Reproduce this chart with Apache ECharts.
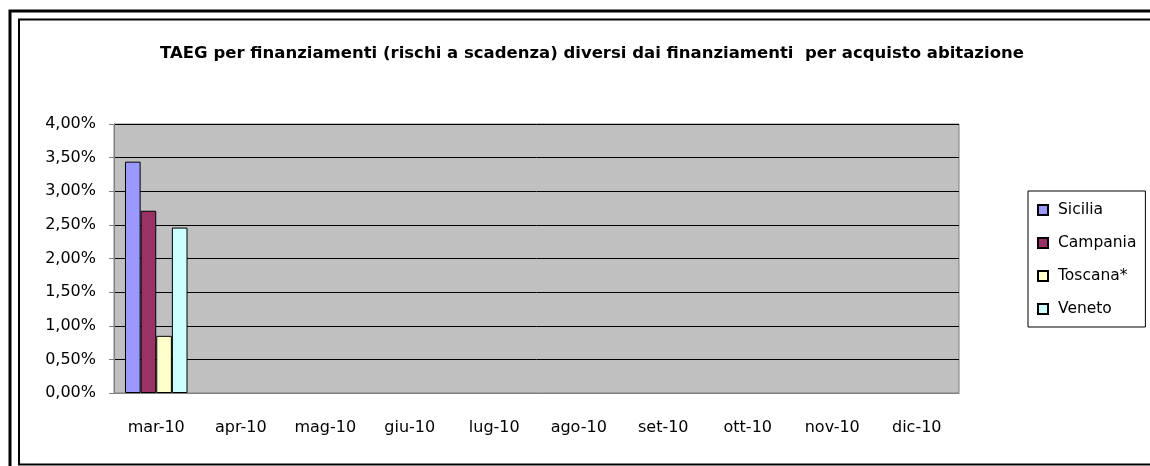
<!DOCTYPE html>
<html>
<head>
<meta charset="utf-8">
<script src="https://cdn.jsdelivr.net/npm/echarts@6/dist/echarts.min.js"></script>
<style>
  html, body { margin: 0; padding: 0; background: #fff; }
  #chart { width: 1150px; height: 466px; }
</style>
</head>
<body>
<div id="chart"></div>
<script>
var categories = ["mar-10", "apr-10", "mag-10", "giu-10", "lug-10", "ago-10", "set-10", "ott-10", "nov-10", "dic-10"];
var sicilia = [3.44, null, null, null, null, null, null, null, null, null];
var campania = [2.71, null, null, null, null, null, null, null, null, null];
var toscana = [0.85, null, null, null, null, null, null, null, null, null];
var veneto = [2.46, null, null, null, null, null, null, null, null, null];

var font = "'Comic Sans MS', 'DejaVu Sans', sans-serif";

var chart = echarts.init(document.getElementById("chart"));

function bar(name, data, color) {
  return {
    name: name,
    type: "bar",
    data: data,
    barGap: "0%",
    barCategoryGap: "26%",
    itemStyle: { color: color, borderColor: "#000", borderWidth: 1 }
  };
}

chart.setOption({
  backgroundColor: "#fff",
  animation: false,
  title: {
    text: "TAEG per finanziamenti (rischi a scadenza) diversi dai finanziamenti  per acquisto abitazione",
    left: 587,
    top: 40,
    textAlign: "center",
    textStyle: { fontFamily: font, fontSize: 16.5, fontWeight: "bold", color: "#000" }
  },
  graphic: [
    { type: "rect", shape: { x: 10, y: 11, width: 1300, height: 600 }, style: { fill: null, stroke: "#000", lineWidth: 3 } },
    { type: "rect", shape: { x: 19, y: 19.5, width: 1300, height: 445 }, style: { fill: null, stroke: "#000", lineWidth: 2 } }
  ],
  legend: {
    orient: "vertical",
    left: 1028,
    top: 191,
    width: 118,
    padding: [11, 9, 10, 9],
    itemGap: 17,
    itemWidth: 10,
    itemHeight: 10,
    icon: "rect",
    borderColor: "#000",
    borderWidth: 1,
    textStyle: { fontFamily: font, fontSize: 15.5, color: "#000", padding: [0, 0, 0, 5] },
    data: ["Sicilia", "Campania", "Toscana*", "Veneto"]
  },
  grid: {
    left: 114,
    top: 124,
    right: 191,
    bottom: 73,
    show: true,
    backgroundColor: "#C0C0C0",
    borderColor: "#808080",
    borderWidth: 1
  },
  xAxis: {
    type: "category",
    data: categories,
    axisLine: { lineStyle: { color: "#808080" } },
    axisTick: { length: 5, lineStyle: { color: "#808080" } },
    axisLabel: { fontFamily: font, fontSize: 16, color: "#000", margin: 27 }
  },
  yAxis: {
    type: "value",
    min: 0,
    max: 4,
    interval: 0.5,
    axisLine: { show: true, lineStyle: { color: "#808080" } },
    axisTick: { show: true, length: 5, lineStyle: { color: "#808080" } },
    splitLine: { lineStyle: { color: "#000", width: 1 } },
    axisLabel: {
      fontFamily: font, fontSize: 16, color: "#000", margin: 18,
      formatter: function (v) { return v.toFixed(2).replace(".", ",") + "%"; }
    }
  },
  series: [
    bar("Sicilia", sicilia, "#9999FF"),
    bar("Campania", campania, "#993366"),
    bar("Toscana*", toscana, "#FFFFCC"),
    bar("Veneto", veneto, "#CCFFFF")
  ]
});
</script>
</body>
</html>
